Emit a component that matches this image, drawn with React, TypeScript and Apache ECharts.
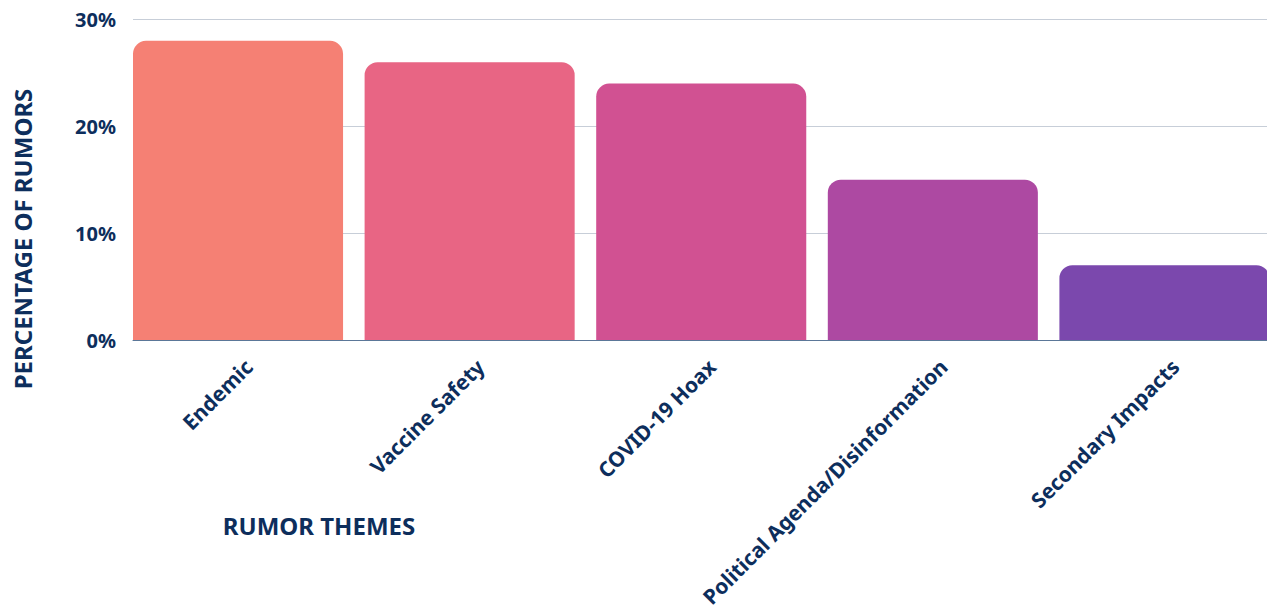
import React, { useEffect, useRef } from "react";
import * as echarts from "echarts";

const categories = [
  "Endemic",
  "Vaccine Safety",
  "COVID-19 Hoax",
  "Political Agenda/Disinformation",
  "Secondary Impacts",
];
const values = [28, 26, 24, 15, 7];
const barColors = ["#F58074", "#E86584", "#D15192", "#AD49A2", "#7B48AD"];
const yTicks = [0, 10, 20, 30];

const NAVY = "#0d2e5c";
const FONT = "'Noto Sans', sans-serif";

export default function App() {
  const ref = useRef<HTMLDivElement>(null);
  useEffect(() => {
    if (!ref.current) return;
    const chart = echarts.init(ref.current, undefined, { renderer: "svg" });
    chart.setOption({
      animation: false,
      grid: { left: 133, right: 0, top: 19.5, bottom: 270, containLabel: false },
      xAxis: {
        type: "category",
        data: categories,
        axisTick: { show: false },
        axisLine: { show: true, lineStyle: { color: "#5b7798", width: 1 } },
        axisLabel: {
          rotate: 45,
          margin: 23,
          color: NAVY,
          fontFamily: FONT,
          fontWeight: "bold",
          fontSize: 21,
          interval: 0,
        },
      },
      yAxis: {
        type: "value",
        min: yTicks[0],
        max: yTicks[yTicks.length - 1],
        interval: 10,
        axisLine: { show: false },
        axisTick: { show: false },
        splitLine: { lineStyle: { color: "#c7ced8", width: 1 } },
        axisLabel: {
          formatter: (v: number) => `${v}%`,
          margin: 17,
          color: NAVY,
          fontFamily: FONT,
          fontWeight: "bold",
          fontSize: 20,
        },
      },
      series: [
        {
          type: "bar",
          data: values.map((v, i) => ({ value: v, itemStyle: { color: barColors[i] } })),
          barWidth: "90.7%",
          barGap: 0,
          itemStyle: { borderRadius: [13, 13, 0, 0] },
        },
        {
          type: "bar",
          data: values.map(() => null),
          barWidth: "9.3%",
          barGap: 0,
          silent: true,
        },
      ],
      graphic: [
        {
          type: "text",
          x: 22,
          y: 239,
          rotation: Math.PI / 2,
          style: {
            text: "PERCENTAGE OF RUMORS",
            fill: NAVY,
            font: `bold 24px ${FONT}`,
            align: "center",
            verticalAlign: "middle",
          },
        },
        {
          type: "text",
          x: 319,
          y: 525,
          style: {
            text: "RUMOR THEMES",
            fill: NAVY,
            font: `bold 24px ${FONT}`,
            align: "center",
            verticalAlign: "middle",
          },
        },
      ],
    });
    return () => chart.dispose();
  }, []);
  return (
    <div style={{ position: "absolute", left: 0, top: 0, width: 1267, height: 610, overflow: "hidden" }}>
      <div ref={ref} style={{ width: 1291, height: 610 }} />
    </div>
  );
}
